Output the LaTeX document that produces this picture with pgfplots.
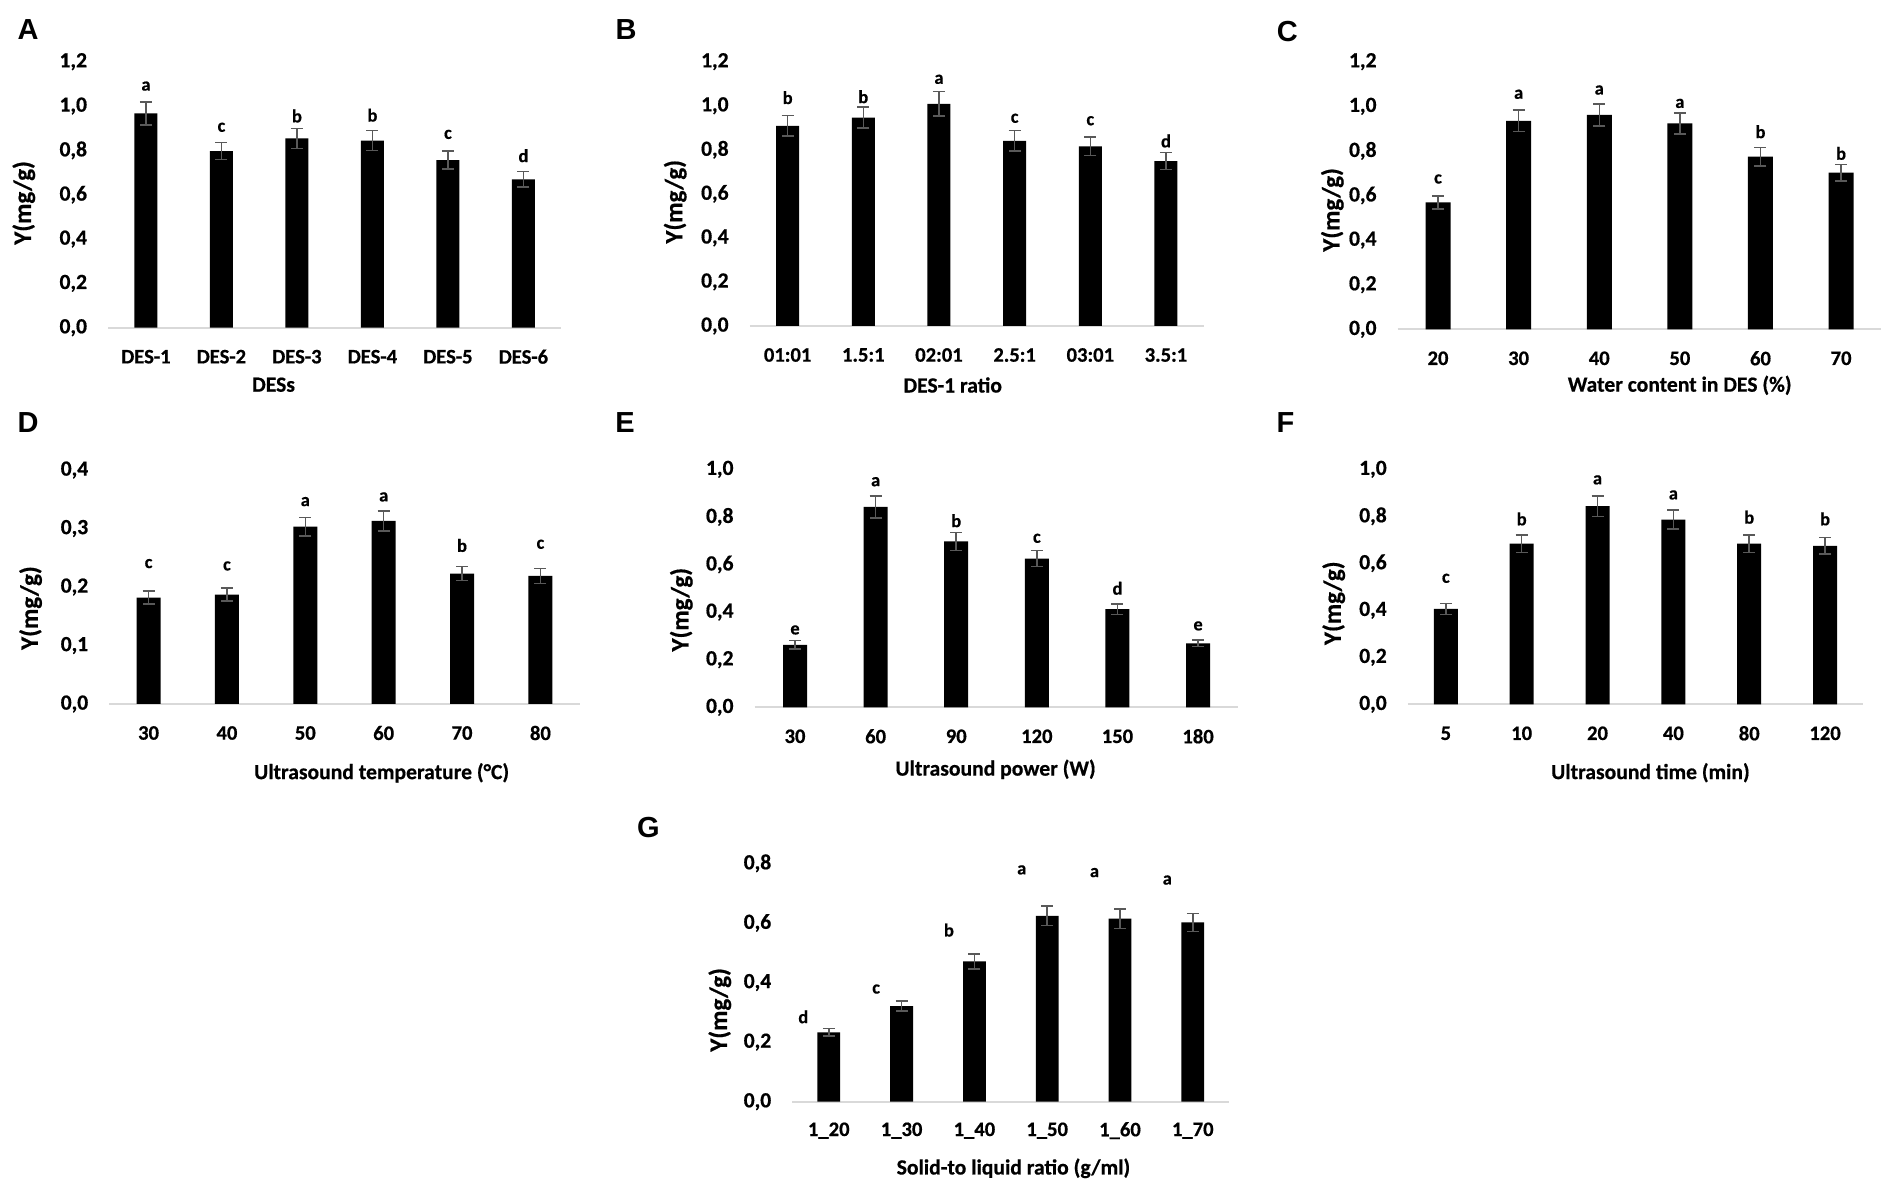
\documentclass[border=0pt]{standalone}
\usepackage{fontspec}
\setmainfont{Carlito}[BoldFeatures={FakeBold=0.6}]
\newfontfamily\panelfont{Liberation Sans}
\usepackage{pgfplots}
\pgfplotsset{compat=1.18}
\definecolor{errgray}{HTML}{595959}
\definecolor{basegray}{HTML}{D9D9D9}
\pgfplotsset{
  panel/.style={
    scale only axis, anchor=south west, clip=false,
    xmin=-0.5, xmax=5.5, ymin=0,
    axis line style={draw=none},
    major tick length=0pt,
    xtick={0,1,2,3,4,5},
    /pgf/number format/assume math mode=true,
    /pgf/number format/use comma,
    /pgf/number format/fixed,
    /pgf/number format/fixed zerofill,
    /pgf/number format/precision=1,
    yticklabel style={font=\fontsize{10.8}{12}\selectfont\bfseries, anchor=east, inner sep=0pt, xshift=-10.4pt},
    xticklabel style={font=\fontsize{10.3}{12}\selectfont\bfseries, anchor=center, inner sep=0pt, yshift=-14.5pt},
    xlabel style={font=\fontsize{10.8}{12}\selectfont\bfseries},
    ylabel style={font=\fontsize{12.5}{14}\selectfont\bfseries},
    ylabel={Y(mg/g)},
  },
  ylab/.style 2 args={ylabel style={at={(axis description cs:0,#1)}, anchor=center, yshift=#2}},
  xlab/.style 2 args={xlabel style={at={(axis description cs:#1,0)}, anchor=center, yshift=-#2}},
  barstyle/.style={ybar, bar width=12pt, fill=black, draw=none,
    error bars/y dir=both, error bars/y explicit,
    error bars/error bar style={color=errgray, line width=0.75pt},
    error bars/error mark options={rotate=90, mark size=3pt, line width=0.75pt, color=errgray}},
  letstyle/.style={draw=none, mark=none, nodes near coords, point meta=explicit symbolic,
    nodes near coords align={anchor=center},
    every node near coord/.append style={font=\fontsize{9.2}{10}\selectfont\bfseries, inner sep=0pt, anchor=center}},
}
\newcommand{\baseline}{\draw[basegray, line width=1pt] (axis cs:-0.5,0) -- (axis cs:5.5,0);}
\begin{document}
\begin{tikzpicture}
\path[use as bounding box] (0,0) rectangle (950.5pt,595pt);
\tikzset{plab/.style={font=\panelfont\fontsize{14.5}{16}\selectfont\bfseries, inner sep=0pt}}
\node[plab] at (14pt,580pt) {A};
\node[plab] at (313pt,580pt) {B};
\node[plab] at (643.7pt,579pt) {C};
\node[plab] at (14pt,383.5pt) {D};
\node[plab] at (312.5pt,383.5pt) {E};
\node[plab] at (642.7pt,383.5pt) {F};
\node[plab] at (324.2pt,181pt) {G};

% A
\begin{axis}[panel, at={(54.1pt,431.15pt)}, width=226.5pt, height=133pt,
  ymax=1.2, ytick={0,0.2,0.4,0.6,0.8,1.0,1.2},
  xticklabels={DES-1,DES-2,DES-3,DES-4,DES-5,DES-6},
  xlabel={DESs}, ylab={0.469}{42.2pt}, xlab={0.365}{28.5pt}]
\baseline
\addplot[barstyle, bar width=11.5pt] table[x=x,y=y,y error=e] {
x y e
0 0.967 0.052
1 0.797 0.038
2 0.854 0.045
3 0.844 0.045
4 0.756 0.041
5 0.669 0.035
};
\addplot[letstyle] table[x=x,y=y,meta=l] {
x y l
0 1.090 a
1 0.904 c
2 0.955 b
3 0.959 b
4 0.872 c
5 0.776 d
};
\end{axis}

% B
\begin{axis}[panel, at={(374.9pt,432pt)}, width=227pt, height=132.15pt,
  ymax=1.2, ytick={0,0.2,0.4,0.6,0.8,1.0,1.2},
  xticklabels={01:01,1.5:1,02:01,2.5:1,03:01,3.5:1},
  xlabel={DES-1 ratio}, ylab={0.47}{37.3pt}, xlab={0.447}{29.5pt}]
\baseline
\addplot[barstyle, bar width=11.5pt] table[x=x,y=y,y error=e] {
x y e
0 0.909 0.047
1 0.946 0.048
2 1.009 0.055
3 0.841 0.046
4 0.816 0.042
5 0.749 0.038
};
\addplot[letstyle] table[x=x,y=y,meta=l] {
x y l
0 1.037 b
1 1.041 b
2 1.120 a
3 0.943 c
4 0.932 c
5 0.840 d
};
\end{axis}

% C
\begin{axis}[panel, at={(698.85pt,430.35pt)}, width=241.85pt, height=133.8pt,
  ymax=1.2, ytick={0,0.2,0.4,0.6,0.8,1.0,1.2},
  xticklabels={20,30,40,50,60,70},
  xlabel={Water content in DES (\%)}, ylab={0.446}{32.7pt}, xlab={0.583}{28pt}]
\baseline
\addplot[barstyle, bar width=12.5pt] table[x=x,y=y,y error=e] {
x y e
0 0.569 0.029
1 0.935 0.048
2 0.961 0.049
3 0.923 0.048
4 0.774 0.042
5 0.702 0.038
};
\addplot[letstyle] table[x=x,y=y,meta=l] {
x y l
0 0.674 c
1 1.054 a
2 1.073 a
3 1.013 a
4 0.886 b
5 0.789 b
};
\end{axis}

% D
\begin{axis}[panel, at={(54.7pt,243pt)}, width=235.1pt, height=117pt,
  ymax=0.4, ytick={0,0.1,0.2,0.3,0.4},
  xticklabels={30,40,50,60,70,80},
  xlabel={Ultrasound temperature (°C)}, ylab={0.41}{39.4pt}, xlab={0.579}{34.4pt}]
\baseline
\addplot[barstyle] table[x=x,y=y,y error=e] {
x y e
0 0.182 0.011
1 0.187 0.011
2 0.303 0.016
3 0.313 0.017
4 0.223 0.012
5 0.219 0.013
};
\addplot[letstyle] table[x=x,y=y,meta=l] {
x y l
0 0.240 c
1 0.236 c
2 0.346 a
3 0.354 a
4 0.271 b
5 0.273 c
};
\end{axis}

% E
\begin{axis}[panel, at={(377.35pt,241.35pt)}, width=241.85pt, height=119pt,
  ymax=1.0, ytick={0,0.2,0.4,0.6,0.8,1.0},
  xticklabels={30,60,90,120,150,180},
  xlabel={Ultrasound power (W)}, ylab={0.41}{36.7pt}, xlab={0.498}{31pt}]
\baseline
\addplot[barstyle] table[x=x,y=y,y error=e] {
x y e
0 0.262 0.018
1 0.842 0.046
2 0.697 0.038
3 0.625 0.033
4 0.412 0.022
5 0.269 0.014
};
\addplot[letstyle] table[x=x,y=y,meta=l] {
x y l
0 0.325 e
1 0.948 a
2 0.784 b
3 0.710 c
4 0.500 d
5 0.342 e
};
\end{axis}

% F
\begin{axis}[panel, at={(703.95pt,242.85pt)}, width=227.55pt, height=117.5pt,
  ymax=1.0, ytick={0,0.2,0.4,0.6,0.8,1.0},
  xticklabels={5,10,20,40,80,120},
  xlabel={Ultrasound time (min)}, ylab={0.43}{37.1pt}, xlab={0.533}{34.2pt}]
\baseline
\addplot[barstyle] table[x=x,y=y,y error=e] {
x y e
0 0.406 0.024
1 0.684 0.037
2 0.843 0.044
3 0.786 0.041
4 0.684 0.037
5 0.674 0.035
};
\addplot[letstyle] table[x=x,y=y,meta=l] {
x y l
0 0.536 c
1 0.789 b
2 0.955 a
3 0.891 a
4 0.796 b
5 0.789 b
};
\end{axis}

% G
\begin{axis}[panel, at={(396.2pt,44.15pt)}, width=218.4pt, height=119.2pt,
  ymax=0.8, ytick={0,0.2,0.4,0.6,0.8},
  xticklabels={1\_20,1\_30,1\_40,1\_50,1\_60,1\_70},
  xlabel={Solid-to liquid ratio (g/ml)}, ylab={0.385}{36.3pt}, xlab={0.506}{33.3pt}]
\baseline
\addplot[barstyle, bar width=11.4pt] table[x=x,y=y,y error=e] {
x y e
0 0.233 0.013
1 0.321 0.017
2 0.471 0.025
3 0.624 0.033
4 0.614 0.033
5 0.602 0.030
};
\addplot[letstyle] table[x=x,y=y,meta=l] {
x y l
-0.35 0.285 d
0.65 0.378 c
1.65 0.576 b
2.65 0.778 a
3.65 0.769 a
4.65 0.744 a
};
\end{axis}
\end{tikzpicture}
\end{document}
